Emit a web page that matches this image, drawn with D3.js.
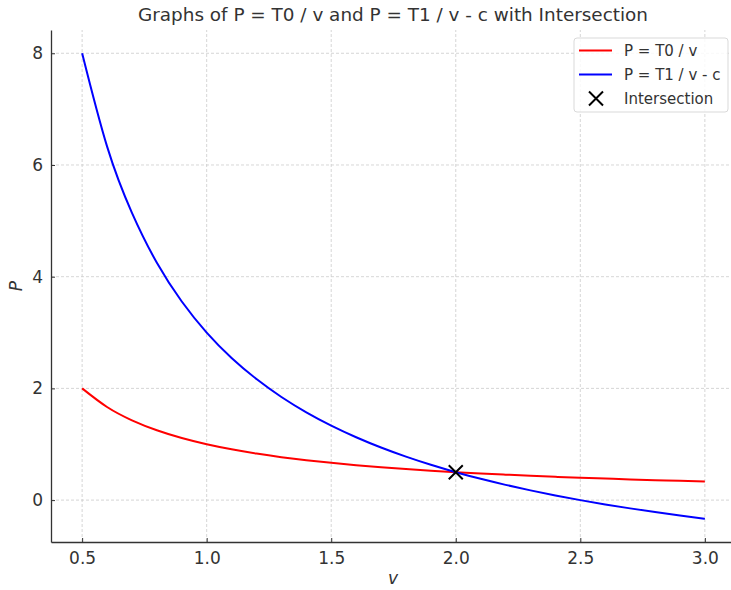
<!DOCTYPE html>
<html>
<head>
<meta charset="utf-8">
<script src="https://cdn.jsdelivr.net/npm/d3@7"></script>
<style>
  body { margin: 0; background: #fff; }
  text { font-family: "DejaVu Sans", sans-serif; fill: #333; }
</style>
</head>
<body>
<script>
// values
const vValues = [0.5, 0.6, 0.7, 0.8, 0.9, 1.0, 1.1, 1.2, 1.3, 1.4, 1.5, 1.6, 1.7,
                 1.8, 1.9, 2.0, 2.1, 2.2, 2.3, 2.4, 2.5, 2.6, 2.7, 2.8, 2.9, 3.0]
const redP = [2.0, 1.667, 1.429, 1.25, 1.111, 1.0, 0.909, 0.833, 0.769, 0.714, 0.667, 0.625, 0.588,
              0.556, 0.526, 0.5, 0.476, 0.455, 0.435, 0.417, 0.4, 0.385, 0.370, 0.357, 0.345, 0.333]
const blueP = [8.0, 6.333, 5.143, 4.25, 3.556, 3.0, 2.545, 2.167, 1.846, 1.571, 1.333, 1.125, 0.941,
               0.778, 0.632, 0.5, 0.381, 0.273, 0.174, 0.083, 0.0, -0.077, -0.148, -0.214, -0.276, -0.333]
const intersection = [2.0, 0.5]
const xTicks = [0.5, 1.0, 1.5, 2.0, 2.5, 3.0]
const yTicks = [0, 2, 4, 6, 8]
const legendLabels = ["P = T0 / v", "P = T1 / v - c", "Intersection"]

const w = 731
const h = 590
let padding = { top: 30, left: 51, bottom: 48, right: -5 }

const svg = d3.select('body')
    .append('svg')
    .attr('width', w)
    .attr('height', h)

const x = d3.scaleLinear().domain([0.375, 3.125]).range([padding.left, w - padding.right])
const y = d3.scaleLinear().domain([-0.75, 8.4167]).range([h - padding.bottom, padding.top])

// grid
svg.append('g').selectAll('line')
    .data(xTicks).enter().append('line')
    .attr('x1', d => x(d)).attr('x2', d => x(d))
    .attr('y1', y(-0.75)).attr('y2', y(8.4167))
    .attr('stroke', '#cccccc').attr('stroke-dasharray', '3,2').attr('stroke-width', 0.8)
svg.append('g').selectAll('line')
    .data(yTicks).enter().append('line')
    .attr('y1', d => y(d)).attr('y2', d => y(d))
    .attr('x1', x(0.375)).attr('x2', x(3.125))
    .attr('stroke', '#cccccc').attr('stroke-dasharray', '3,2').attr('stroke-width', 0.8)

// axes
const xAxis = svg.append('g')
    .attr('transform', `translate(0,${y(-0.75)})`)
    .call(d3.axisBottom(x).tickValues(xTicks).tickFormat(d3.format('.1f')).tickSizeInner(-4).tickSizeOuter(0).tickPadding(10))
const yAxis = svg.append('g')
    .attr('transform', `translate(${x(0.375)},0)`)
    .call(d3.axisLeft(y).tickValues(yTicks).tickSizeInner(-4).tickSizeOuter(0).tickPadding(8))
for (const ax of [xAxis, yAxis]) {
    ax.select('.domain').attr('stroke', '#333').attr('stroke-width', 1.3)
    ax.selectAll('.tick line').attr('stroke', '#333').attr('stroke-width', 1)
    ax.selectAll('.tick text').attr('font-size', 17).attr('fill', '#333')
        .attr('font-family', '"DejaVu Sans", sans-serif')
}

// curves
const line = d3.line()
    .x((d, i) => x(vValues[i]))
    .y(d => y(d))
    .curve(d3.curveNatural)

svg.append('path').datum(redP)
    .attr('d', line).attr('fill', 'none').attr('stroke', '#ff0000').attr('stroke-width', 2)
svg.append('path').datum(blueP)
    .attr('d', line).attr('fill', 'none').attr('stroke', '#0000ff').attr('stroke-width', 2)

// intersection marker
const cross = (g, cx, cy, s) => {
    g.append('path')
        .attr('d', `M${cx - s},${cy - s}L${cx + s},${cy + s}M${cx - s},${cy + s}L${cx + s},${cy - s}`)
        .attr('stroke', '#000').attr('stroke-width', 2).attr('fill', 'none')
}
cross(svg, x(intersection[0]), y(intersection[1]), 7)

// title and labels
svg.append('text')
    .attr('x', 393).attr('y', 21)
    .attr('text-anchor', 'middle').attr('font-size', 18.4)
    .text('Graphs of P = T0 / v and P = T1 / v - c with Intersection')
svg.append('text')
    .attr('x', 393).attr('y', 584)
    .attr('text-anchor', 'middle').attr('font-size', 17).attr('font-style', 'italic')
    .text('v')
svg.append('text')
    .attr('transform', `translate(22,${(y(-0.75) + y(8.4167)) / 2}) rotate(-90)`)
    .attr('text-anchor', 'middle').attr('font-size', 17).attr('font-style', 'italic')
    .text('P')

// legend
const lg = svg.append('g').attr('transform', 'translate(574,38)')
lg.append('rect')
    .attr('width', 154).attr('height', 74).attr('rx', 3)
    .attr('fill', 'white').attr('fill-opacity', 0.85)
    .attr('stroke', '#d9d9d9').attr('stroke-width', 1)
const legendColors = ['#ff0000', '#0000ff']
legendLabels.forEach((lab, i) => {
    const yy = 12.5 + i * 24
    if (i < 2) {
        lg.append('line').attr('x1', 5).attr('x2', 38).attr('y1', yy).attr('y2', yy)
            .attr('stroke', legendColors[i]).attr('stroke-width', 2)
    } else {
        cross(lg, 22, yy, 7)
    }
    lg.append('text').attr('x', 50).attr('y', yy + 5.5)
        .attr('font-size', 15).text(lab)
})
</script>
</body>
</html>
